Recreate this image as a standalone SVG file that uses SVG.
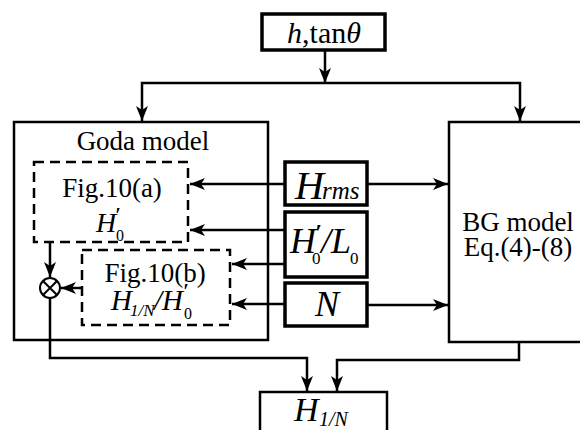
<svg xmlns="http://www.w3.org/2000/svg" width="580" height="430" viewBox="0 0 580 430">
<defs>
<marker id="ah" markerUnits="userSpaceOnUse" markerWidth="16" markerHeight="12" refX="15" refY="6" orient="auto">
<path d="M0,0 L15,6 L0,12 L4,6 z" fill="#000"/>
</marker>
<style>
.box{fill:#fff;stroke:#000;stroke-width:2.5}
.tb{fill:#fff;stroke:#000;stroke-width:3.5}
.dash{fill:none;stroke:#000;stroke-width:2.5;stroke-dasharray:10 6}
.c{fill:none;stroke:#000;stroke-width:2.5;marker-end:url(#ah)}
text{font-family:"Liberation Serif","Times New Roman",serif;fill:#000}
.t{font-size:27px;text-anchor:middle}
.i{font-style:italic}
.u{font-style:normal}
.p{font-weight:bold}
</style>
</defs>
<g id="top">
<rect class="tb" x="262" y="14" width="123" height="36"/>
<text x="324" y="43" font-size="30" text-anchor="middle"><tspan class="i">h</tspan>,tan<tspan class="i">θ</tspan></text>
</g>
<g id="goda">
<rect class="box" x="14" y="122" width="254" height="218"/>
<text class="t" x="143" y="150" font-size="28">Goda model</text>
</g>
<g id="fig10a">
<rect class="dash" x="34" y="162" width="154" height="80"/>
<text class="t" x="112" y="197">Fig.10(a)</text>
<text class="i" font-size="28"><tspan x="96" y="232">H</tspan><tspan class="p" x="115" y="222" font-size="20">′</tspan><tspan class="u" x="116" y="241" font-size="16">0</tspan></text>
</g>
<g id="fig10b">
<rect class="dash" x="82" y="250" width="148" height="75"/>
<text class="t" x="155" y="282">Fig.10(b)</text>
<text class="i" font-size="29"><tspan x="111" y="310">H</tspan><tspan x="130" y="316" font-size="17">1/N</tspan><tspan x="154" y="310">/H</tspan><tspan class="p" x="183" y="298" font-size="20">′</tspan><tspan class="u" x="184" y="319" font-size="16">0</tspan></text>
</g>
<g id="mult">
<circle cx="50" cy="288" r="10" fill="#fff" stroke="#000" stroke-width="2"/>
<path d="M43,281 L57,295 M57,281 L43,295" stroke="#000" stroke-width="2"/>
</g>
<g id="hrms">
<rect class="tb" x="285" y="162" width="82" height="43"/>
<text class="i" font-size="40"><tspan x="295" y="199">H</tspan><tspan x="322" y="199" font-size="25">rms</tspan></text>
</g>
<g id="h0l0">
<rect class="tb" x="285" y="212" width="82" height="65"/>
<text class="i" font-size="36"><tspan x="290" y="253">H</tspan><tspan class="p" x="315" y="240" font-size="24">′</tspan><tspan class="u" x="312" y="264" font-size="17">0</tspan><tspan x="321" y="253">/L</tspan><tspan class="u" x="350" y="264" font-size="17">0</tspan></text>
</g>
<g id="n">
<rect class="tb" x="285" y="283" width="82" height="43"/>
<text x="327" y="316" font-size="36" class="i" text-anchor="middle">N</text>
</g>
<g id="bg">
<rect class="box" x="449" y="122" width="140" height="220"/>
<text class="t" x="518" y="231" font-size="28">BG model</text>
<text class="t" x="518" y="256" font-size="28">Eq.(4)-(8)</text>
</g>
<g id="out">
<rect class="box" x="260" y="392" width="127" height="50"/>
<text class="i" font-size="34"><tspan x="294" y="421">H</tspan><tspan x="319" y="426" font-size="20">1/N</tspan></text>
</g>
<g id="connectors">
<path class="c" d="M325,50 V83"/>
<path class="c" d="M325,83 H142 V121"/>
<path class="c" d="M325,83 H520 V121"/>
<path class="c" d="M285,184 H190"/>
<path class="c" d="M367,184 H448"/>
<path class="c" d="M285,230 H190"/>
<path class="c" d="M285,264 H232"/>
<path class="c" d="M285,304 H232"/>
<path class="c" d="M367,305 H448"/>
<path class="c" d="M50,242 V277"/>
<path class="c" d="M82,288 H61"/>
<path class="c" d="M50,298 V358 H307 V391"/>
<path class="c" d="M519,342 V360 H337 V391"/>
</g>
</svg>
